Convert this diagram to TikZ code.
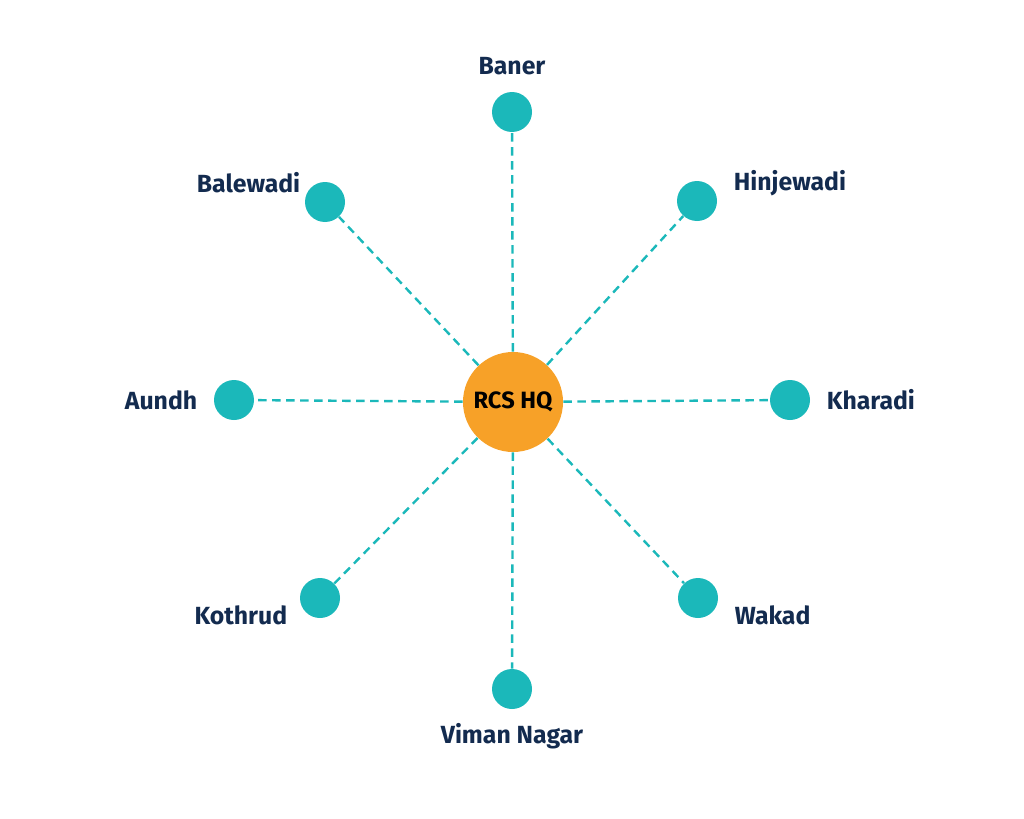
\documentclass[tikz,border=0pt]{standalone}
\usepackage{fontspec}
\setmainfont{Fira Sans}
\usetikzlibrary{positioning}

\definecolor{hqorange}{HTML}{F7A128}
\definecolor{siteteal}{HTML}{1BB8BA}
\definecolor{labelnavy}{HTML}{132B4F}

\tikzset{
  hub/.style = {circle, fill = hqorange, minimum size = 50pt, inner sep = 0pt,
                font = \bfseries\fontsize{11.8}{13}\selectfont, text = black},
  site/.style = {circle, fill = siteteal, minimum size = 20pt, inner sep = 0pt},
  sitename/.style = {inner sep = 0pt, text = labelnavy,
                     font = \bfseries\fontsize{12.4}{14}\selectfont},
  link/.style = {draw = siteteal, line width = 1.2pt, dash pattern = on 4.2pt off 2.8pt}
}

\begin{document}
\begin{tikzpicture}[x = 0.5pt, y = -0.5pt]
      \useasboundingbox (0,0) rectangle (1024,819);
      % place nodes
      \node (hq) [hub] at (513,402) {RCS HQ};

      \node (baner) [site] at (512,112) {};
      \node (hinjewadi) [site] at (697,201) {};
      \node (kharadi) [site] at (790,400) {};
      \node (wakad) [site] at (698,598) {};
      \node (viman) [site] at (512,689) {};
      \node (kothrud) [site] at (320,598) {};
      \node (aundh) [site] at (234,400) {};
      \node (balewadi) [site] at (325,202) {};

      \node (lbaner) [sitename, above = 8pt of baner] {Baner};
      \node (lhinjewadi) [sitename, right = 8pt of hinjewadi, yshift = 9pt] {Hinjewadi};
      \node (lkharadi) [sitename, right = 8pt of kharadi] {Kharadi};
      \node (lwakad) [sitename, right = 8pt of wakad, yshift = -8.5pt] {Wakad};
      \node (lviman) [sitename, below = 7pt of viman] {Viman Nagar};
      \node (lkothrud) [sitename, left = 6pt of kothrud, yshift = -8.5pt] {Kothrud};
      \node (laundh) [sitename, left = 8pt of aundh] {Aundh};
      \node (lbalewadi) [sitename, left = 2pt of balewadi, yshift = 9.5pt] {Balewadi};
      % draw edges
      \draw [link] (hq) -- (baner);
      \draw [link] (hq) -- (hinjewadi);
      \draw [link] (hq) -- (kharadi);
      \draw [link] (hq) -- (wakad);
      \draw [link] (hq) -- (viman);
      \draw [link] (hq) -- (kothrud);
      \draw [link] (hq) -- (aundh);
      \draw [link] (hq) -- (balewadi);
\end{tikzpicture}
\end{document}
